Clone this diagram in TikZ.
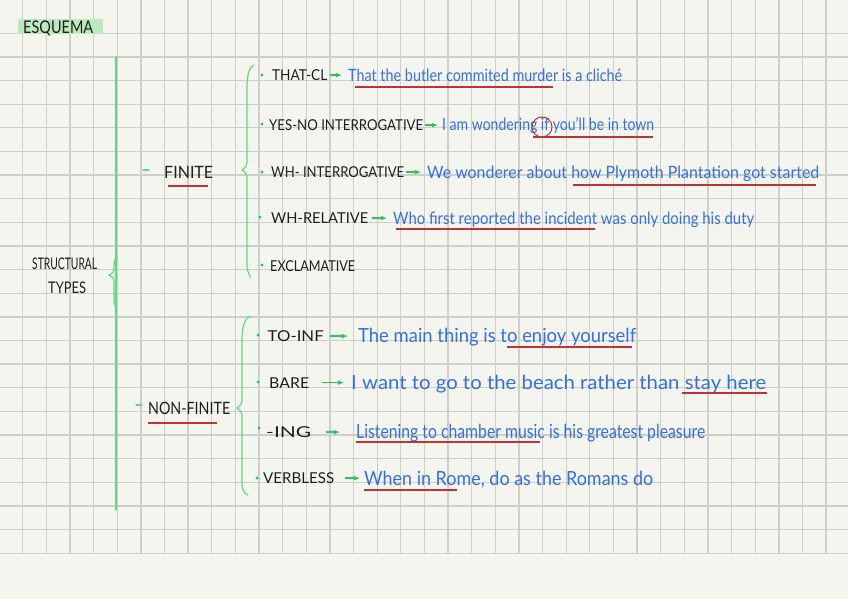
\documentclass[tikz,border=0pt]{standalone}
\usepackage{fontspec}
\setmainfont{Lato}
\usetikzlibrary{arrows.meta}
\definecolor{paper}{RGB}{245,245,240}
\definecolor{gridc}{RGB}{206,206,202}
\definecolor{gline}{RGB}{95,218,125}
\definecolor{garr}{RGB}{40,200,90}
\definecolor{hilite}{RGB}{188,234,190}
\definecolor{bluetxt}{RGB}{52,112,222}
\definecolor{redline}{RGB}{190,52,52}
\definecolor{inkc}{RGB}{30,30,30}
\newcommand\fitw[2]{\resizebox{#1pt}{\height}{#2}}
\tikzset{
  gridline/.style={gridc, line width=1.3pt},
  gstroke/.style={gline, line width=1.2pt, line cap=round},
  lbl/.style={anchor=base west, inner sep=0pt, text=inkc, font=\fontsize{15}{17}\selectfont},
  head/.style={anchor=base west, inner sep=0pt, text=inkc, font=\fontsize{16}{18}\selectfont},
  ex/.style={anchor=base west, inner sep=0pt, text=bluetxt, font=\fontsize{17}{19}\selectfont},
  exbig/.style={ex, font=\fontsize{19.5}{21}\selectfont},
  garrow/.style={garr, line width=1.6pt, -{Latex[length=6pt,width=5pt]}},
  uline/.style={redline, line width=1.1pt},
  bullet/.style={circle, fill=garr, inner sep=0pt, minimum size=3.2pt},
}
\begin{document}
\begin{tikzpicture}[x=1pt,y=-1pt]
\fill[paper] (0,0) rectangle (848,599);
\useasboundingbox (0,0) rectangle (848,599);
% grid
\foreach \i in {0,...,22} \draw[gridline] (0,33.3+23.63*\i) -- (848,33.3+23.63*\i);
\foreach \i in {0,...,34} \draw[gridline] (22.7+23.63*\i,0) -- (22.7+23.63*\i,553.3);
% title
\fill[hilite] (18,19) rectangle (103,34);
\node[head, font=\fontsize{17.5}{19}\selectfont] (title) at (23,34) {\fitw{70}{ESQUEMA}};
% structural types
\node[head] (st1) at (32,269) {\fitw{65}{STRUCTURAL}};
\node[head] (st2) at (48,293) {\fitw{38}{TYPES}};
\draw[gstroke] (116,57) -- (116,510);
\draw[gstroke] (117,257) .. controls (114,260) and (114,263) .. (114,268)
  .. controls (114,272) .. (109,275) .. controls (114,278) .. (114,284)
  -- (114,300) .. controls (114,304) .. (116,307);
% finite / non-finite
\node[head, font=\fontsize{17}{19}\selectfont] (fin) at (164,178.5) {\fitw{49}{FINITE}};
\node[head, font=\fontsize{17}{19}\selectfont] (nfin) at (148,414.5) {\fitw{82}{NON-FINITE}};
\draw[gstroke] (143,170) -- (149,170);
\draw[gstroke] (136,405) -- (142,405);
\draw[uline] (168,186) -- (208,186);
\draw[uline] (148,423) -- (217,423);
% braces
\draw[gstroke] (254,65) .. controls (249,67) and (247,75) .. (247,90) -- (247,158)
  .. controls (247,166) .. (242,170) .. controls (247,174) .. (247,182)
  -- (247,262) .. controls (247,270) and (248,274) .. (251,277);
\draw[gstroke] (251,316) .. controls (245,318) and (242,325) .. (242,340) -- (242,396)
  .. controls (242,404) .. (237,408) .. controls (242,412) .. (242,420)
  -- (242,482) .. controls (242,490) and (244,494) .. (248,495);
% rows (finite)
\node[bullet] (b1) at (262,75) {};
\node[lbl] (l1) at (272,80.5) {\fitw{55}{THAT-CL}};
\node[ex] (e1) at (348,82) {\fitw{274}{That the butler commited murder is a cliché}};
\draw[garrow, shorten <=3pt, shorten >=6pt] (l1.east) -- (l1.east -| e1.west);
\draw[uline] (355,87) -- (553,87);

\node[bullet] (b2) at (262,124) {};
\node[lbl] (l2) at (269,130.5) {\fitw{154}{YES-NO INTERROGATIVE}};
\node[ex] (e2) at (442,131) {\fitw{212}{I am wondering if you’ll be in town}};
\draw[garrow, shorten <=2pt, shorten >=4pt] (l2.east) -- (l2.east -| e2.west);
\draw[redline, line width=1pt] (542,127) ellipse (10pt and 10pt);
\draw[uline] (533,137) -- (653,137);

\node[bullet] (b3) at (262,172) {};
\node[lbl] (l3) at (271,177.5) {\fitw{133}{WH- INTERROGATIVE}};
\node[ex] (e3) at (427,178) {\fitw{392}{We wonderer about how Plymoth Plantation got started}};
\draw[garrow, shorten <=2pt, shorten >=6pt] (l3.east) -- (l3.east -| e3.west);
\draw[uline] (573,185) -- (816,185);

\node[bullet] (b4) at (260,217) {};
\node[lbl] (l4) at (271,223.5) {\fitw{97}{WH-RELATIVE}};
\node[ex] (e4) at (393,224) {\fitw{361}{Who first reported the incident was only doing his duty}};
\draw[garrow, shorten <=4pt, shorten >=6pt] (l4.east) -- (l4.east -| e4.west);
\draw[uline] (396,229) -- (595,229);

\node[bullet] (b5) at (262,265) {};
\node[lbl] (l5) at (270,271.5) {\fitw{85}{EXCLAMATIVE}};
% rows (non-finite)
\node[bullet] (b6) at (258,335) {};
\node[lbl] (l6) at (267.5,341.5) {\fitw{56}{TO-INF}};
\node[exbig] (e6) at (358,342) {\fitw{278}{The main thing is to enjoy yourself}};
\draw[garrow, shorten <=6pt, shorten >=10pt] (l6.east) -- (l6.east -| e6.west);
\draw[uline] (507,347) -- (632,347);

\node[bullet] (b7) at (258,382) {};
\node[lbl] (l7) at (269,388) {\fitw{40}{BARE}};
\node[exbig] (e7) at (351,389) {\fitw{415}{I want to go to the beach rather than stay here}};
\draw[garrow, shorten <=13pt, shorten >=7pt] (l7.east) -- (l7.east -| e7.west);
\draw[uline] (682,393) -- (767,393);

\node[bullet] (b8) at (259,428) {};
\node[lbl] (l8) at (266,437.5) {\fitw{45}{-ING}};
\node[exbig] (e8) at (356,438) {\fitw{349}{Listening to chamber music is his greatest pleasure}};
\draw[garrow, shorten <=15pt, shorten >=16pt] (l8.east) -- (l8.east -| e8.west);
\draw[uline] (356,442) -- (540,442);

\node[bullet] (b9) at (257,478) {};
\node[lbl] (l9) at (263,483.5) {\fitw{71}{VERBLESS}};
\node[exbig] (e9) at (364,485) {\fitw{289}{When in Rome, do as the Romans do}};
\draw[garrow, shorten <=11pt, shorten >=4pt] (l9.east) -- (l9.east -| e9.west);
\draw[uline] (364,490) -- (457,490);
\end{tikzpicture}
\end{document}
